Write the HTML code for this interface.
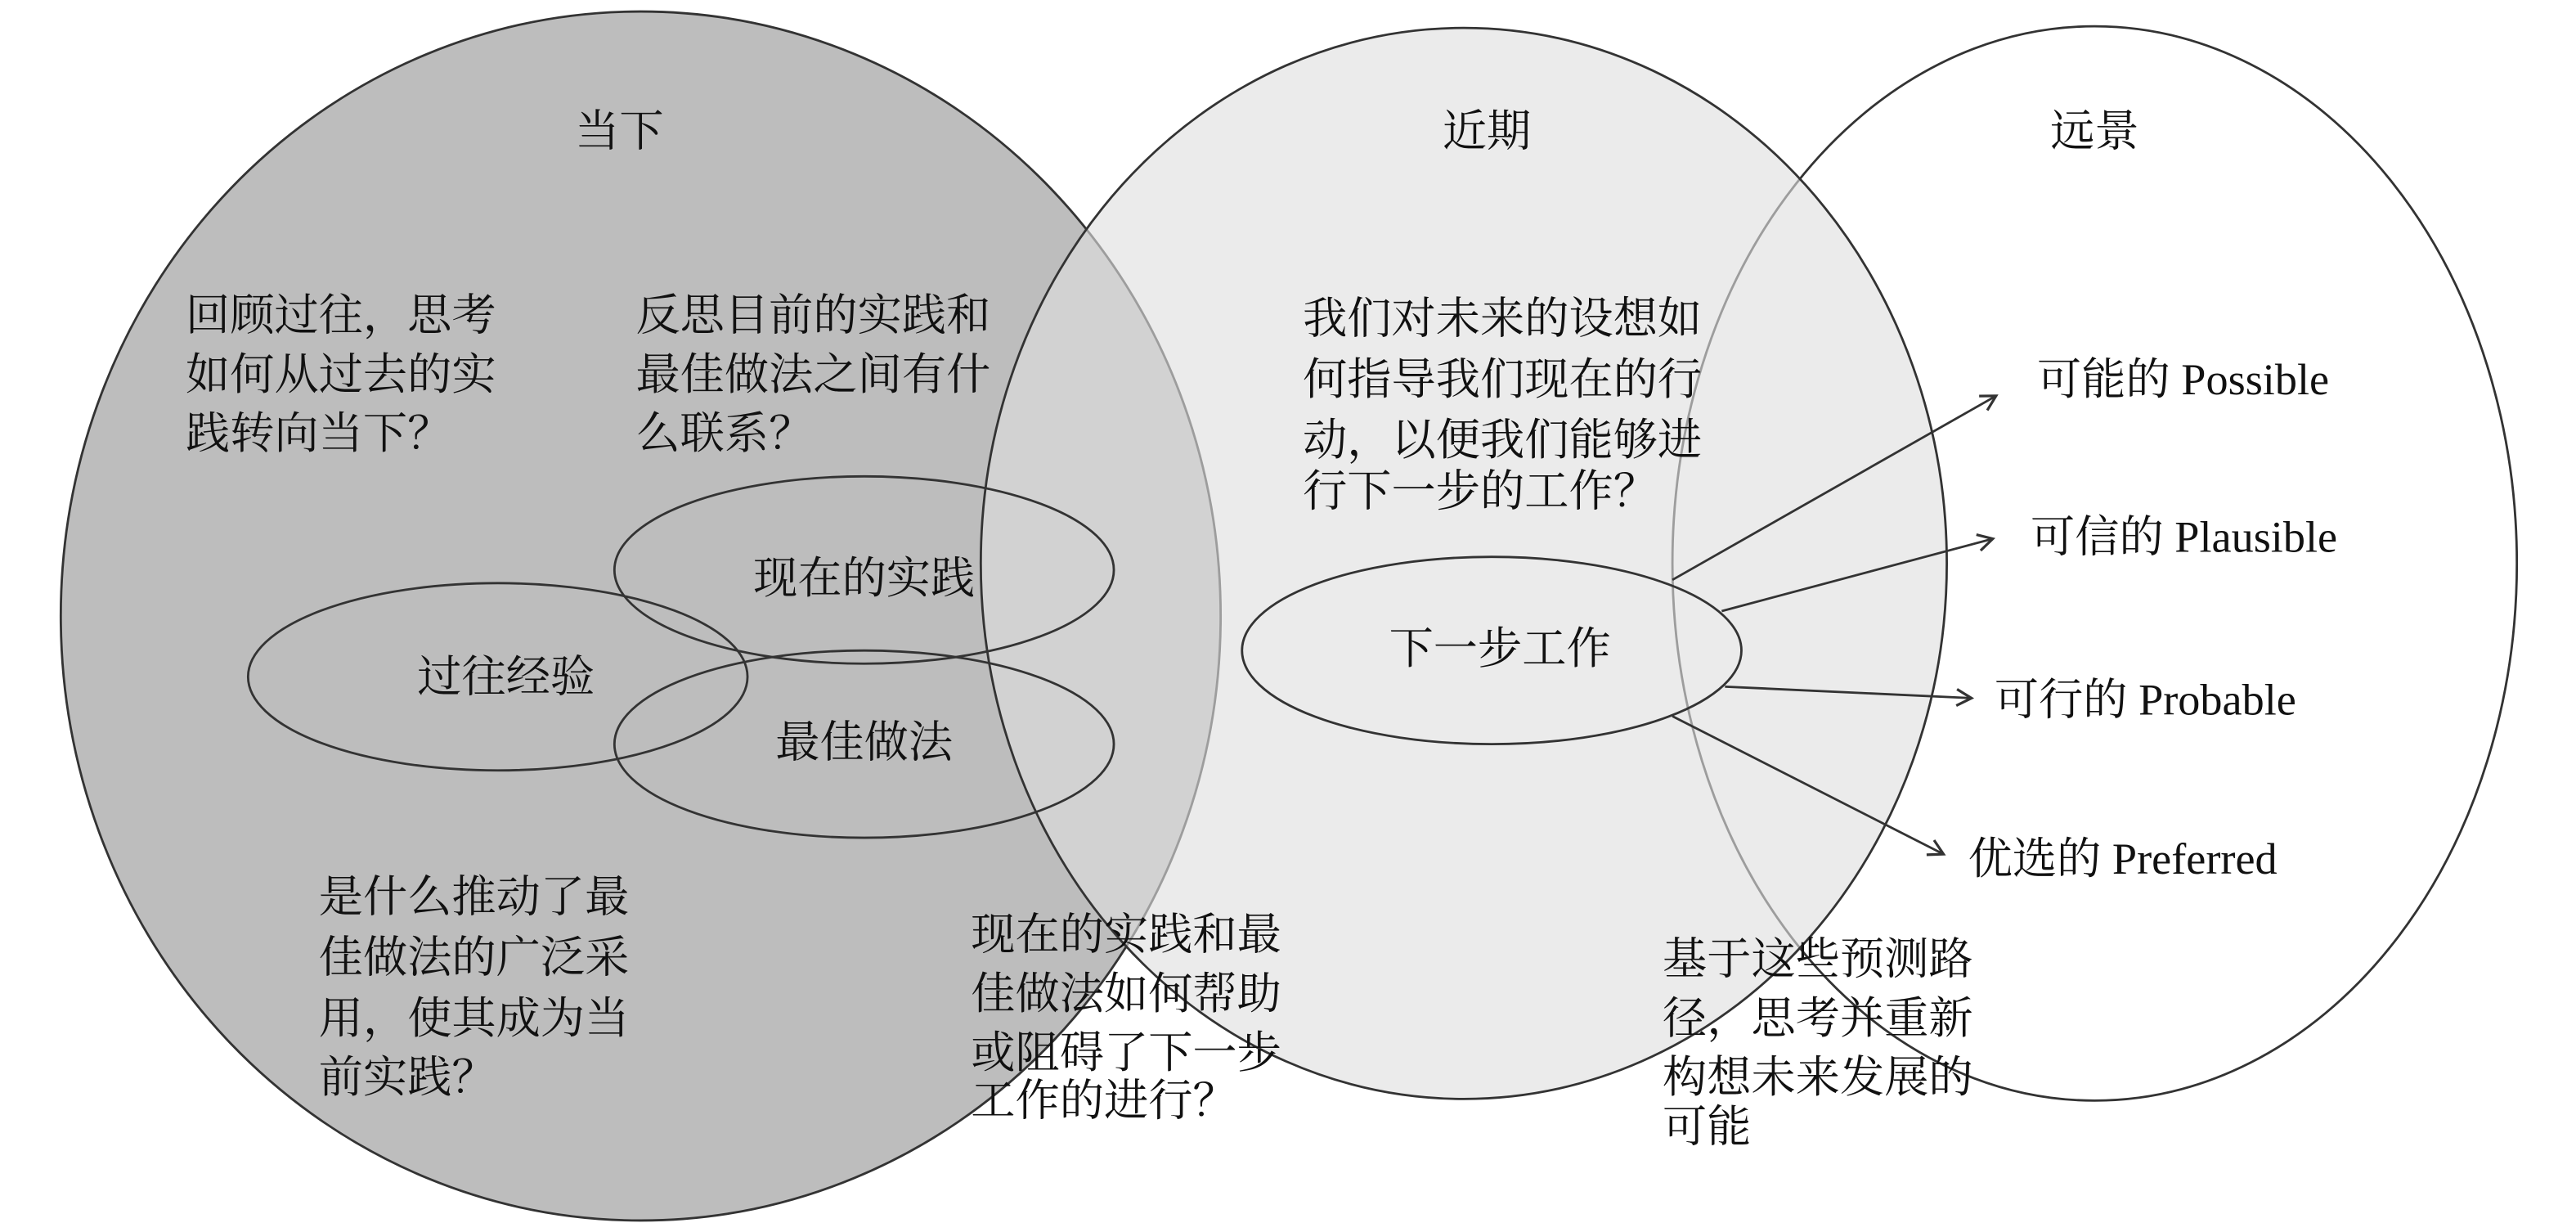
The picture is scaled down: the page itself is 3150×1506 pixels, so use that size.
<!DOCTYPE html>
<html><head><meta charset="utf-8"><style>
html,body{margin:0;padding:0;background:#fff;}
svg{display:block;}
text{font-family:"Liberation Serif","Noto Serif CJK SC",serif;font-size:27px;fill:#111;dominant-baseline:central;}
</style></head><body>
<svg width="3150" height="1506" viewBox="0 0 1568 750" preserveAspectRatio="none" xmlns="http://www.w3.org/2000/svg">
<defs><marker id="a" markerWidth="12" markerHeight="12" refX="10" refY="6" orient="auto" markerUnits="userSpaceOnUse"><path d="M1,1 L10,6 L1,11" fill="none" stroke="#333" stroke-width="1.6"/></marker></defs>
<ellipse cx="1275" cy="343" rx="257" ry="327" fill="#fff" stroke="#333" stroke-width="1.4"/>
<ellipse cx="390" cy="375" rx="353" ry="368" fill="#bdbdbd" stroke="#333" stroke-width="1.4"/>
<ellipse cx="891" cy="343" rx="294" ry="326" fill="#dfdfdf" fill-opacity="0.62" stroke="#333" stroke-width="1.4"/>
<g fill="none" stroke="#333" stroke-width="1.4">
<ellipse cx="526" cy="347" rx="152" ry="57"/>
<ellipse cx="303" cy="412" rx="152" ry="57"/>
<ellipse cx="526" cy="453" rx="152" ry="57"/>
<ellipse cx="908" cy="396" rx="152" ry="57"/>
<line x1="1018" y1="353" x2="1215" y2="241" marker-end="url(#a)"/>
<line x1="1048" y1="372" x2="1213" y2="328" marker-end="url(#a)"/>
<line x1="1050" y1="418" x2="1200" y2="425" marker-end="url(#a)"/>
<line x1="1018" y1="436" x2="1183" y2="520" marker-end="url(#a)"/>
</g>
<g text-anchor="middle">
<text x="377" y="80">当下</text>
<text x="905" y="80">近期</text>
<text x="1275" y="80">远景</text>
<text x="526" y="352">现在的实践</text>
<text x="308" y="412">过往经验</text>
<text x="526" y="452">最佳做法</text>
<text x="913" y="395">下一步工作</text>
</g>
<text x="1240" y="231">可能的 Possible</text>
<text x="1236" y="327">可信的 Plausible</text>
<text x="1214" y="426">可行的 Probable</text>
<text x="1198" y="523">优选的 Preferred</text>
<g>
<text x="113" y="192">回顾过往，思考</text>
<text x="113" y="228">如何从过去的实</text>
<text x="113" y="264">践转向当下？</text>
<text x="387" y="192">反思目前的实践和</text>
<text x="387" y="228">最佳做法之间有什</text>
<text x="387" y="264">么联系？</text>
<text x="793" y="194">我们对未来的设想如</text>
<text x="793" y="231">何指导我们现在的行</text>
<text x="793" y="268">动，以便我们能够进</text>
<text x="793" y="299">行下一步的工作？</text>
<text x="194" y="546">是什么推动了最</text>
<text x="194" y="583">佳做法的广泛采</text>
<text x="194" y="620">用，使其成为当</text>
<text x="194" y="656">前实践？</text>
<text x="591" y="569">现在的实践和最</text>
<text x="591" y="605">佳做法如何帮助</text>
<text x="591" y="641">或阻碍了下一步</text>
<text x="591" y="670">工作的进行？</text>
<text x="1012" y="584">基于这些预测路</text>
<text x="1012" y="620">径，思考并重新</text>
<text x="1012" y="656">构想未来发展的</text>
<text x="1012" y="686">可能</text>
</g>
</svg>
</body></html>
